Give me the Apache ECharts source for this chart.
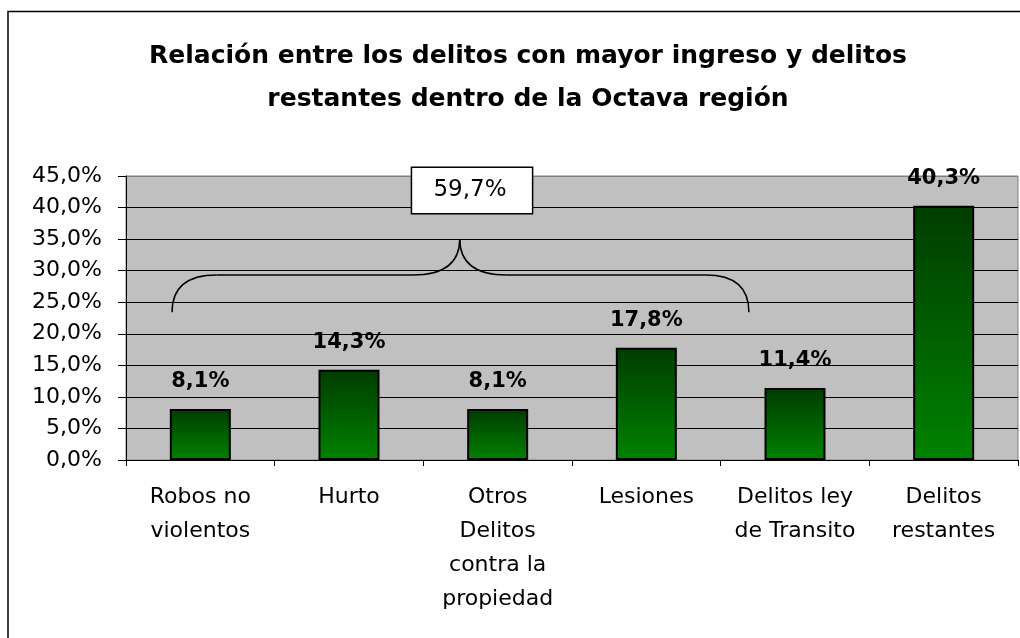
<!DOCTYPE html>
<html>
<head>
<meta charset="utf-8">
<title>Relación entre los delitos</title>
<script src="https://cdn.jsdelivr.net/npm/echarts@6/dist/echarts.min.js"></script>
<style>
  html, body { margin: 0; padding: 0; background: #fff; }
  #chart { width: 1020px; height: 638px; }
</style>
</head>
<body>
<div id="chart"></div>
<script>
// categorias
var categories = [
  "Robos no\nviolentos",
  "Hurto",
  "Otros\nDelitos\ncontra la\npropiedad",
  "Lesiones",
  "Delitos ley\nde Transito",
  "Delitos\nrestantes"
];
// porcentajes
var values = [8.1, 14.3, 8.1, 17.8, 11.4, 40.3];
// eje y
var yTicks = [0, 5, 10, 15, 20, 25, 30, 35, 40, 45];

// cuantos delitos entran en la llave (los 5 primeros)
var bracedCount = 5;

var FONT = "DejaVu Sans";

function pct(v) {
  return v.toFixed(1).replace(".", ",") + "%";
}

var chart = echarts.init(document.getElementById("chart"));

var option = {
  backgroundColor: "#fff",
  animation: false,
  title: {
    text: "Relación entre los delitos con mayor ingreso y delitos\nrestantes dentro de la Octava región",
    left: 523,
    textAlign: "center",
    top: 30,
    textStyle: {
      fontFamily: FONT,
      fontSize: 25,
      fontWeight: "bold",
      color: "#000",
      lineHeight: 43
    }
  },
  grid: {
    left: 126,
    top: 176,
    width: 892,
    height: 284,
    show: true,
    backgroundColor: "#c0c0c0",
    borderColor: "#808080",
    borderWidth: 1
  },
  xAxis: {
    type: "category",
    data: categories,
    axisLine: { lineStyle: { color: "#000", width: 1 } },
    axisTick: { show: true, length: 6, lineStyle: { color: "#000" } },
    axisLabel: {
      interval: 0,
      margin: 20,
      fontFamily: FONT,
      fontSize: 22,
      lineHeight: 34,
      color: "#000"
    }
  },
  yAxis: {
    type: "value",
    min: yTicks[0],
    max: yTicks[yTicks.length - 1],
    interval: yTicks[1] - yTicks[0],
    axisLine: { show: true, lineStyle: { color: "#000", width: 1 } },
    axisTick: { show: true, length: 8, lineStyle: { color: "#000" } },
    axisLabel: {
      margin: 24,
      fontFamily: FONT,
      fontSize: 22,
      color: "#000",
      formatter: pct
    },
    splitLine: {
      lineStyle: {
        // la ultima linea (borde superior) es gris
        color: yTicks.map(function (t, i) {
          return i === yTicks.length - 1 ? "#808080" : "#000";
        }),
        width: 1
      }
    }
  },
  series: [
    {
      type: "bar",
      data: values,
      barWidth: 61,
      itemStyle: {
        color: new echarts.graphic.LinearGradient(0, 0, 0, 1, [
          { offset: 0, color: "#003c00" },
          { offset: 1, color: "#008200" }
        ]),
        borderColor: "#000",
        borderWidth: 2
      },
      label: {
        show: true,
        position: "top",
        distance: 17,
        fontFamily: FONT,
        fontSize: 21,
        fontWeight: "bold",
        color: "#000",
        formatter: function (p) {
          return pct(p.value);
        }
      }
    }
  ]
};

chart.setOption(option);

// llave + caja con la suma, anclada a los ejes
function drawBrace() {
  var c0 = chart.convertToPixel({ xAxisIndex: 0 }, 0);
  var band = chart.convertToPixel({ xAxisIndex: 0 }, 1) - c0;
  var X = function (f) { return c0 + f * band; };
  var Y = function (v) { return chart.convertToPixel({ yAxisIndex: 0 }, v); };

  var xl = X(-0.19), xa = X(0.11), xb = X(1.43), xp = X(1.745),
      xc = X(2.06), xd = X(3.40), xr = X(3.69);
  var yEnd = Y(23.4), yMid = Y(29.3), yPeak = Y(35.0);

  var st = { fill: "none", stroke: "#000", lineWidth: 1.5 };
  function curve(x1, y1, cx, cy, x2, y2) {
    return { type: "bezierCurve", silent: true, shape: { x1: x1, y1: y1, cpx1: cx, cpy1: cy, x2: x2, y2: y2 }, style: st };
  }
  function seg(x1, y1, x2, y2) {
    return { type: "line", silent: true, shape: { x1: x1, y1: y1, x2: x2, y2: y2 }, style: st };
  }

  var sum = 0;
  for (var i = 0; i < bracedCount; i++) sum += values[i];

  var bx0 = X(1.42), bx1 = X(2.235);
  var by0 = Y(46.4), by1 = Y(39.0);

  chart.setOption({
    graphic: [
      {
        type: "rect",
        silent: true,
        shape: { x: 8, y: 11.5, width: 1030, height: 650 },
        style: { fill: "none", stroke: "#000", lineWidth: 1.5 }
      },
      curve(xl, yEnd, xl, yMid, xa, yMid),
      seg(xa, yMid, xb, yMid),
      curve(xb, yMid, xp, yMid, xp, yPeak),
      curve(xp, yPeak, xp, yMid, xc, yMid),
      seg(xc, yMid, xd, yMid),
      curve(xd, yMid, xr, yMid, xr, yEnd),
      {
        type: "rect",
        silent: true,
        shape: { x: bx0, y: by0, width: bx1 - bx0, height: by1 - by0 },
        style: { fill: "#fff", stroke: "#000", lineWidth: 1.5 }
      },
      {
        type: "text",
        silent: true,
        x: (bx0 + bx1) / 2 - 2,
        y: (by0 + by1) / 2,
        style: {
          text: pct(sum),
          fontFamily: FONT,
          fontSize: 23,
          fill: "#000",
          align: "center",
          verticalAlign: "middle"
        }
      }
    ]
  });
}

drawBrace();
</script>
</body>
</html>
